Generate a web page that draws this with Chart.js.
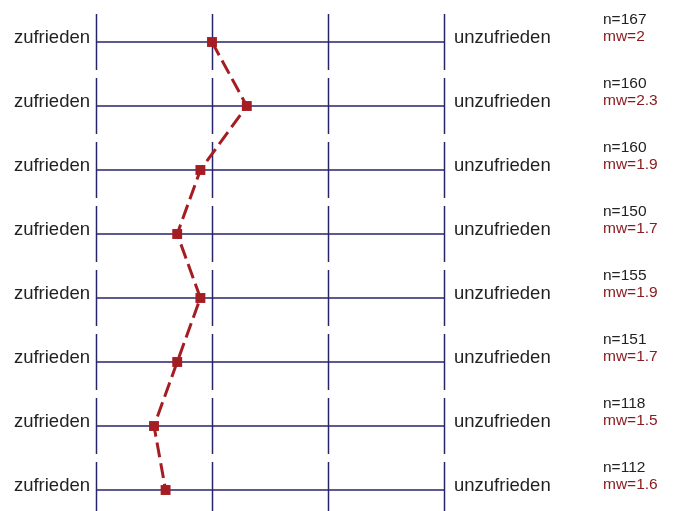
<!DOCTYPE html>
<html>
<head>
<meta charset="utf-8">
<script src="https://cdn.jsdelivr.net/npm/chart.js@4.4.0/dist/chart.umd.min.js"></script>
<style>
  html, body { margin: 0; padding: 0; background: #fff; }
  canvas { display: block; }
</style>
</head>
<body>
<canvas id="profil" width="674" height="511"></canvas>
<script>
// Polaritätsprofil: eine Zeile je Frage, Skala 1 (zufrieden) bis 4 (unzufrieden)
const scaleTicks = [1, 2, 3, 4];
const leftLabels = ["zufrieden", "zufrieden", "zufrieden", "zufrieden", "zufrieden", "zufrieden", "zufrieden", "zufrieden"];
const rightLabels = ["unzufrieden", "unzufrieden", "unzufrieden", "unzufrieden", "unzufrieden", "unzufrieden", "unzufrieden", "unzufrieden"];
const nValues = [167, 160, 160, 150, 155, 151, 118, 112];
const meanValues = [2, 2.3, 1.9, 1.7, 1.9, 1.7, 1.5, 1.6];

const rows = meanValues.map((v, i) => i + 1);

const lineColor = "#26256a";
const markColor = "#a51d23";
const mwColor = "#8a1c20";
const textColor = "#222222";
const font = "'Liberation Sans', Arial, sans-serif";

// Gitter: waagrechte Linien je Zeile, senkrechte Striche je Skalenwert
const profileGrid = {
    id: "profileGrid",
    beforeDatasetsDraw(chart) {
        const ctx = chart.ctx;
        const xs = chart.scales.x;
        const ys = chart.scales.y;
        ctx.save();
        ctx.strokeStyle = lineColor;
        ctx.lineWidth = 1.5;
        rows.forEach(r => {
            const y = ys.getPixelForValue(r);
            ctx.beginPath();
            ctx.moveTo(xs.getPixelForValue(scaleTicks[0]), y);
            ctx.lineTo(xs.getPixelForValue(scaleTicks[scaleTicks.length - 1]), y);
            ctx.stroke();
            scaleTicks.forEach(t => {
                const x = Math.round(xs.getPixelForValue(t)) + 0.5;
                ctx.beginPath();
                ctx.moveTo(x, y - 28);
                ctx.lineTo(x, y + 28);
                ctx.stroke();
            });
        });
        ctx.restore();
    },
    afterDraw(chart) {
        const ctx = chart.ctx;
        const xs = chart.scales.x;
        const ys = chart.scales.y;
        const xl = xs.getPixelForValue(scaleTicks[0]);
        const xr = xs.getPixelForValue(scaleTicks[scaleTicks.length - 1]);
        ctx.save();
        ctx.textBaseline = "alphabetic";
        rows.forEach((r, i) => {
            const y = ys.getPixelForValue(r);
            ctx.font = "18.5px " + font;
            ctx.fillStyle = textColor;
            ctx.textAlign = "right";
            ctx.fillText(leftLabels[i], xl - 6, y + 1);
            ctx.textAlign = "left";
            ctx.fillText(rightLabels[i], xr + 10, y + 1);
            ctx.font = "15.5px " + font;
            ctx.fillText("n=" + nValues[i], 603, y - 18);
            ctx.fillStyle = mwColor;
            ctx.fillText("mw=" + meanValues[i], 603, y - 1.5);
        });
        ctx.restore();
    }
};

new Chart(document.getElementById("profil"), {
    type: "line",
    data: {
        datasets: [{
            data: meanValues.map((v, i) => ({ x: v, y: rows[i] })),
            borderColor: markColor,
            backgroundColor: markColor,
            borderWidth: 3,
            borderDash: [15, 6],
            pointStyle: "rect",
            pointRadius: 7,
            pointHoverRadius: 7,
            pointBorderWidth: 0,
            tension: 0,
            clip: false
        }]
    },
    options: {
        responsive: false,
        animation: false,
        events: [],
        layout: { padding: { left: 96, right: 230, top: 42, bottom: 21 } },
        plugins: { legend: { display: false }, tooltip: { enabled: false } },
        scales: {
            x: { type: "linear", min: 1, max: 4, display: false },
            y: { type: "linear", min: 1, max: 8, reverse: true, display: false }
        }
    },
    plugins: [profileGrid]
});
</script>
</body>
</html>
